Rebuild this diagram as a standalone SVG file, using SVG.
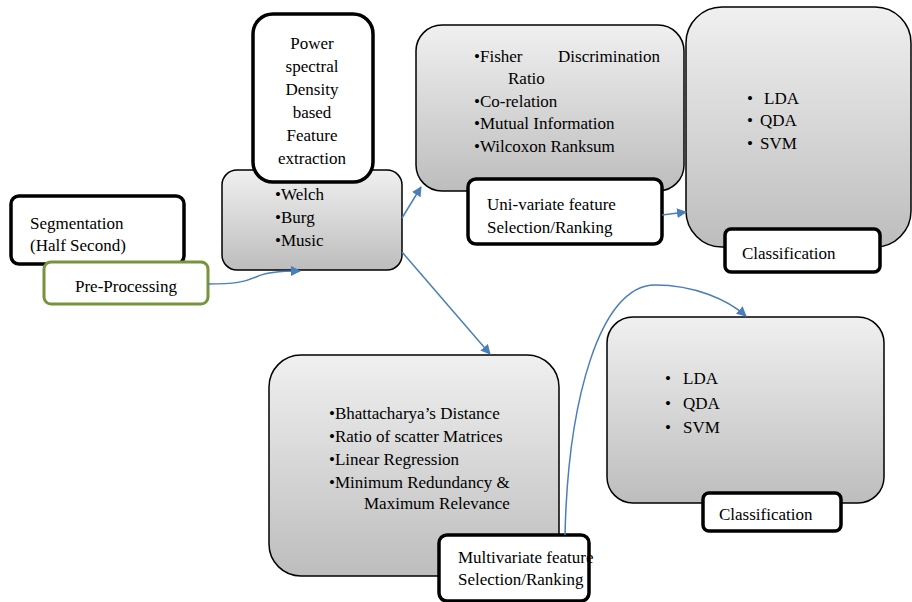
<svg xmlns="http://www.w3.org/2000/svg" width="912" height="602" viewBox="0 0 912 602">
<defs>
<linearGradient id="grad" x1="0" y1="0" x2="0" y2="1">
<stop offset="0" stop-color="#f0f0f0"/>
<stop offset="1" stop-color="#bdbdbd"/>
</linearGradient>
<marker id="ar" viewBox="0 0 10 10" refX="9" refY="5" markerWidth="10" markerHeight="10" markerUnits="userSpaceOnUse" orient="auto">
<path d="M0,0 L10,5 L0,10 z" fill="#4a7ebb"/>
</marker>
</defs>
<g font-family="Liberation Serif" font-size="17" fill="#000">
<g id="segmentation">
<rect x="11" y="196" width="173" height="68" rx="8" fill="#fff" stroke="#000" stroke-width="3.5"/>
<text x="30" y="229">Segmentation</text>
<text x="30" y="251">(Half Second)</text>
</g>
<g id="preprocessing">
<rect x="44" y="262" width="164" height="42" rx="7" fill="#fff" stroke="#77933c" stroke-width="3"/>
<text x="75" y="292">Pre-Processing</text>
</g>
<g id="psd-methods">
<rect x="222" y="170" width="180" height="100" rx="15" fill="url(#grad)" stroke="#000" stroke-width="1.5"/>
<text x="275" y="200">•Welch</text>
<text x="275" y="223">•Burg</text>
<text x="275" y="246">•Music</text>
</g>
<g id="psd">
<rect x="253" y="14" width="120" height="168" rx="20" fill="#fff" stroke="#000" stroke-width="3.5"/>
<text x="312" y="49" text-anchor="middle">Power</text>
<text x="312" y="72" text-anchor="middle">spectral</text>
<text x="312" y="95" text-anchor="middle">Density</text>
<text x="312" y="118" text-anchor="middle">based</text>
<text x="312" y="141" text-anchor="middle">Feature</text>
<text x="312" y="164" text-anchor="middle">extraction</text>
</g>
<g id="univariate-methods">
<rect x="416" y="25" width="268" height="166" rx="26" fill="url(#grad)" stroke="#000" stroke-width="1.5"/>
<text x="474" y="62">•Fisher</text>
<text x="660" y="62" text-anchor="end">Discrimination</text>
<text x="508" y="84">Ratio</text>
<text x="474" y="107">•Co-relation</text>
<text x="474" y="129">•Mutual Information</text>
<text x="474" y="152">•Wilcoxon Ranksum</text>
</g>
<g id="univariate">
<rect x="468" y="179" width="194" height="65" rx="8" fill="#fff" stroke="#000" stroke-width="3.5"/>
<text x="487" y="210">Uni-variate feature</text>
<text x="487" y="233">Selection/Ranking</text>
</g>
<g id="classifiers-top">
<rect x="686" y="7" width="225" height="240" rx="36" fill="url(#grad)" stroke="#000" stroke-width="1.5"/>
<text x="747" y="104">•</text><text x="764" y="104">LDA</text>
<text x="747" y="126">•</text><text x="760" y="126">QDA</text>
<text x="747" y="149">•</text><text x="760" y="149">SVM</text>
</g>
<g id="classification-top">
<rect x="725" y="229" width="155" height="43" rx="6" fill="#fff" stroke="#000" stroke-width="3.5"/>
<text x="742" y="259">Classification</text>
</g>
<g id="multivariate-methods">
<rect x="269" y="355" width="290" height="221" rx="32" fill="url(#grad)" stroke="#000" stroke-width="1.5"/>
<text x="329" y="419">•Bhattacharya’s Distance</text>
<text x="329" y="442">•Ratio of scatter Matrices</text>
<text x="329" y="465">•Linear Regression</text>
<text x="329" y="488">•Minimum Redundancy &amp;</text>
<text x="364" y="509">Maximum Relevance</text>
</g>
<g id="multivariate">
<rect x="439" y="535" width="150" height="66" rx="8" fill="#fff" stroke="#000" stroke-width="3.5"/>
<text x="458" y="563">Multivariate feature</text>
<text x="458" y="585">Selection/Ranking</text>
</g>
<g id="classifiers-bottom">
<rect x="607" y="317" width="277" height="186" rx="26" fill="url(#grad)" stroke="#000" stroke-width="1.5"/>
<text x="665" y="384">•</text><text x="683" y="384">LDA</text>
<text x="665" y="409">•</text><text x="683" y="409">QDA</text>
<text x="665" y="433">•</text><text x="683" y="433">SVM</text>
</g>
<g id="classification-bottom">
<rect x="703" y="493" width="138" height="38" rx="6" fill="#fff" stroke="#000" stroke-width="3.5"/>
<text x="719" y="520">Classification</text>
</g>
</g>
<g id="connectors" fill="none" stroke="#4a7ebb" stroke-width="1.5">
<path d="M208,284 C235,284 245,282 256,277 C266,272 282,271 300,271" marker-end="url(#ar)"/>
<path d="M402,218 L421,187" marker-end="url(#ar)"/>
<path d="M402,252 L490,354" marker-end="url(#ar)"/>
<path d="M662,215 L686,212" marker-end="url(#ar)"/>
<path d="M565,535 C568,400 600,285 655,285 C695,285 728,300 746,316" marker-end="url(#ar)"/>
</g>
</svg>
